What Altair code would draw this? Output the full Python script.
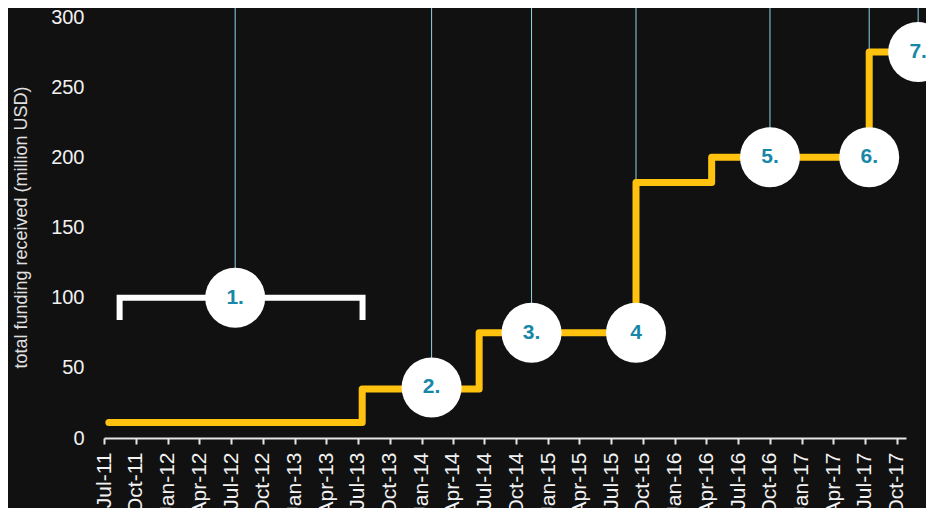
import altair as alt
import pandas as pd

# ---- data ----
step_dates = ["2011-07-15", "2013-07-14", "2014-06-16", "2015-09-11",
              "2016-04-16", "2017-07-14", "2017-12-02"]
step_values = [11, 35, 75, 182, 200, 275, 275]

marker_labels = ["1.", "2.", "3.", "4", "5.", "6.", "7."]
marker_dates = ["2012-07-13", "2014-01-30", "2014-11-14", "2015-09-11",
                "2016-10-01", "2017-07-14", "2017-12-02"]
marker_values = [100, 36, 75, 75, 200, 200, 275]

bracket_dates = ["2011-08-15", "2011-08-15", "2013-07-15", "2013-07-15"]
bracket_values = [84, 100, 100, 84]
bracket_order = [0, 1, 2, 3]

tick_dates = ["2011-07-01", "2011-10-01", "2012-01-01", "2012-04-01", "2012-07-01",
              "2012-10-01", "2013-01-01", "2013-04-01", "2013-07-01", "2013-10-01",
              "2014-01-01", "2014-04-01", "2014-07-01", "2014-10-01", "2015-01-01",
              "2015-04-01", "2015-07-01", "2015-10-01", "2016-01-01", "2016-04-01",
              "2016-07-01", "2016-10-01", "2017-01-01", "2017-04-01", "2017-07-01",
              "2017-10-01"]
y_ticks = [0, 50, 100, 150, 200, 250, 300]
x_domain = ["2011-07-01", "2017-10-28"]
y_domain = [0, 300]


def ms(s):
    return int(pd.Timestamp(s, tz="UTC").value // 10**6)


step_df = pd.DataFrame({"date": [ms(d) for d in step_dates], "value": step_values})
marker_df = pd.DataFrame({"date": [ms(d) for d in marker_dates], "value": marker_values,
                          "label": marker_labels})
bracket_df = pd.DataFrame({"date": [ms(d) for d in bracket_dates], "value": bracket_values,
                           "order": bracket_order})

FONT = "Liberation Sans"
x_scale = alt.Scale(type="utc", domain=[ms(d) for d in x_domain])
y_scale = alt.Scale(domain=y_domain, nice=False)

x_axis = alt.Axis(values=[ms(d) for d in tick_dates],
                  labelExpr="utcFormat(datum.value, '%b-%y')",
                  labelAngle=270, labelAlign="right", labelBaseline="middle",
                  labelOverlap=False, labelFlush=False, labelPadding=8,
                  labelFontSize=21, labelColor="#F2F2F2", labelFont=FONT,
                  domainColor="#E6E6E6", domainWidth=2, tickColor="#E6E6E6",
                  tickWidth=2, tickSize=6, grid=False, title=None)
y_axis = alt.Axis(values=y_ticks, domain=False, ticks=False, grid=False,
                  labelPadding=20, labelFontSize=20, labelColor="#F2F2F2", labelFont=FONT,
                  title="total funding received (million USD)", titleFont=FONT,
                  titleFontSize=18, titleFontWeight="normal", titleColor="#E0E0E0",
                  titleAngle=270, titleAlign="center", titleBaseline="alphabetic",
                  titleX=-78, titleY=210)

X = alt.X("date:T", scale=x_scale, axis=x_axis)
Y = alt.Y("value:Q", scale=y_scale, axis=y_axis)

rules = alt.Chart(marker_df).mark_rule(color="#8FD3E6", strokeWidth=1).encode(
    x=X, y=Y, y2=alt.value(-20))

bracket = alt.Chart(bracket_df).mark_line(
    color="white", strokeWidth=6, strokeCap="butt", strokeJoin="miter").encode(
    x=X, y=Y, order="order:Q")

line = alt.Chart(step_df).mark_line(
    color="#FFC20E", strokeWidth=7, strokeCap="round", strokeJoin="round",
    interpolate="step-after").encode(x=X, y=Y)

circles = alt.Chart(marker_df).mark_circle(
    size=3600, color="white", opacity=1).encode(x=X, y=Y)

labels = alt.Chart(marker_df).mark_text(
    font=FONT, fontSize=21, fontWeight="bold", color="#1787A8",
    align="center", baseline="middle").encode(x=X, y=Y, text="label:N")

chart = alt.layer(rules, bracket, line, circles, labels).properties(
    width=802, height=421,
    autosize=alt.AutoSizeParams(type="none"),
    padding={"left": 96, "top": 9, "right": 20, "bottom": 70},
    background="#111111",
).configure_view(strokeWidth=0)

chart.save("out.html", embed_options={"renderer": "svg", "actions": False})
